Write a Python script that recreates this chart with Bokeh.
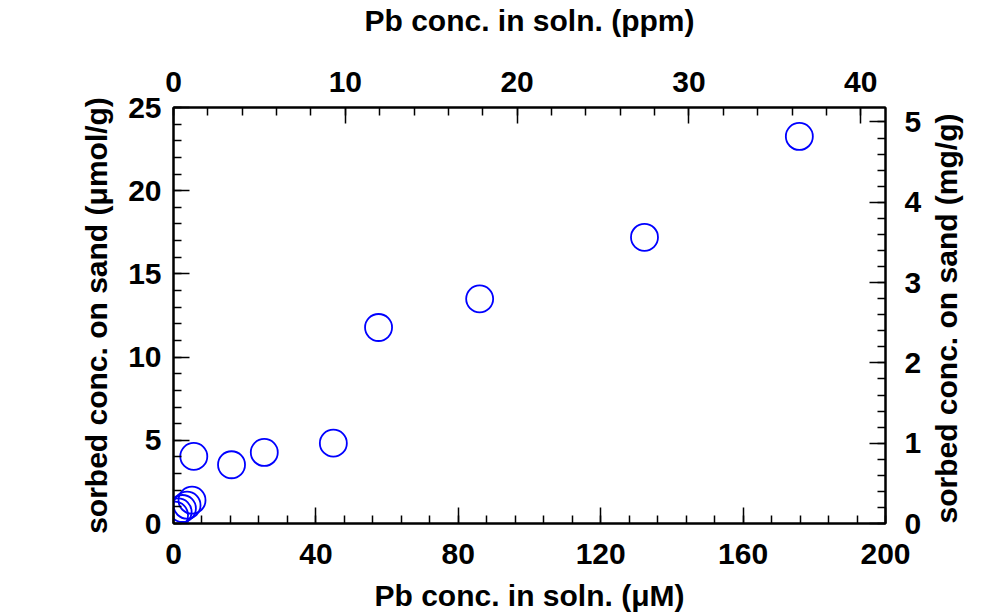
import math
from bokeh.plotting import figure
from bokeh.models import Range1d, LinearAxis, SingleIntervalTicker
from bokeh.embed import file_html
from bokeh.resources import INLINE

# Data
conc_uM = [0.3, 1.3, 2.5, 3.8, 5.2, 5.7, 16.3, 25.5, 44.9, 57.6, 86.0, 132.3, 175.8]
sorbed_umol_g = [0.5, 0.7, 0.9, 1.1, 1.4, 4.03, 3.53, 4.27, 4.83, 11.78, 13.5, 17.2, 23.26]

x_title = "Pb conc. in soln. (\u03bcM)"
x2_title = "Pb conc. in soln. (ppm)"
y_title = "sorbed conc. on sand (\u03bcmol/g)"
y2_title = "sorbed conc. on sand (mg/g)"

PB_MW = 207.2  # g/mol, converts uM -> ppm and umol/g -> mg/g
x_max = 200
y_max = 25

FONT = "Liberation Sans"
FS = "30px"

p = figure(width=995, height=616, output_backend="svg", toolbar_location=None,
           x_range=Range1d(0, x_max), y_range=Range1d(0, y_max),
           min_border_left=173, min_border_right=110, min_border_top=107, min_border_bottom=93)
p.extra_x_ranges = {"ppm": Range1d(0, x_max * PB_MW / 1000)}
p.extra_y_ranges = {"mg": Range1d(0, y_max * PB_MW / 1000)}

p.xgrid.visible = False
p.ygrid.visible = False
p.outline_line_color = "black"
p.outline_line_width = 2
p.background_fill_color = "white"
p.border_fill_color = "white"

def style(ax, interval, title, lab_standoff, title_standoff):
    ax.ticker = SingleIntervalTicker(interval=interval, num_minor_ticks=5)
    ax.axis_label = title
    ax.axis_line_color = "black"
    ax.axis_line_width = 2
    ax.major_tick_in = 16
    ax.major_tick_out = 0
    ax.minor_tick_in = 8
    ax.minor_tick_out = 0
    ax.major_tick_line_width = 1.5
    ax.minor_tick_line_width = 1.5
    ax.major_tick_line_color = "black"
    ax.minor_tick_line_color = "black"
    ax.major_label_text_font = FONT
    ax.major_label_text_font_style = "bold"
    ax.major_label_text_font_size = FS
    ax.major_label_text_color = "black"
    ax.axis_label_text_font = FONT
    ax.axis_label_text_font_style = "bold"
    ax.axis_label_text_font_size = FS
    ax.axis_label_text_color = "black"
    ax.major_label_standoff = lab_standoff
    ax.axis_label_standoff = title_standoff

style(p.xaxis[0], 40, x_title, 20, 12)
style(p.yaxis[0], 5, y_title, 12, 12)

top = LinearAxis(x_range_name="ppm")
style(top, 10, x2_title, 16, 32)
p.add_layout(top, "above")

right = LinearAxis(y_range_name="mg")
style(right, 1, y2_title, 19, 22)
right.axis_label_orientation = math.pi / 2
if hasattr(right, "axis_label_align"):
    right.axis_label_align = "start"
p.add_layout(right, "right")

p.scatter(conc_uM, sorbed_umol_g, marker="circle", size=27, fill_color=None,
          line_color="#0000ff", line_width=1.8)

open("out.html", "w").write(file_html(p, INLINE))
